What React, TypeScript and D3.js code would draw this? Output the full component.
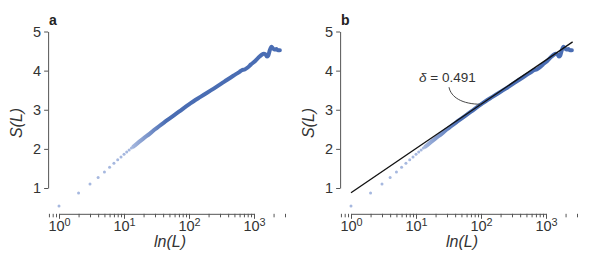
import { useEffect, useRef } from "react";
import * as d3 from "d3";

// sparse part of the curve, one dot per length L
const sparseL = [1, 2, 3, 4, 5, 6, 7, 8, 9, 10, 11, 12, 13, 14, 15, 16, 17, 18, 19, 20];
const sparseS = [0.54, 0.87, 1.1, 1.27, 1.41, 1.53, 1.63, 1.72, 1.79, 1.86, 1.92, 1.97, 2.02, 2.06, 2.1, 2.14, 2.18, 2.21, 2.24, 2.27];

// dense part
const denseL = [14, 20, 25, 30, 45, 70, 100, 150, 240, 350, 480, 600, 650, 720, 800, 900, 1000, 1150, 1300, 1420, 1500, 1580, 1650, 1750, 1860, 1950, 2050, 2200, 2350, 2500];
const denseS = [2.06, 2.27, 2.39, 2.5, 2.72, 2.95, 3.14, 3.33, 3.54, 3.72, 3.87, 3.97, 4.01, 4.03, 4.08, 4.16, 4.22, 4.32, 4.4, 4.43, 4.42, 4.36, 4.38, 4.52, 4.61, 4.57, 4.54, 4.55, 4.52, 4.52];

// fit S = a + delta * ln(L)
const fitDelta = 0.491;
const fitIntercept = 0.88;
const fitRange = [1, 2570];

const yTicks = [1, 2, 3, 4, 5];
const xMajor = [1, 10, 100, 1000];
const xMinor = [0.7, 0.8, 0.9, 2, 3, 4, 5, 6, 7, 8, 9, 20, 30, 40, 50, 60, 70, 80, 90, 200, 300, 400, 500, 600, 700, 800, 900, 2000, 3000];
const xLeft = 0.68;
const yBottom = 0.34;

const font = "'Liberation Sans', Arial, sans-serif";
const lightBlue = "#a6b8df";
const darkBlue = "#4a6db3";

function Panel({ ox, label, showFit, id }: { ox: number; label: string; showFit: boolean; id: string }) {
  const axRef = useRef<SVGGElement>(null);
  const x = d3.scaleLog().domain([1, 1000]).range([59 + ox, 254 + ox]);
  const y = d3.scaleLinear().domain([1, 5]).range([188, 31.5]);
  const fit = (L: number) => fitIntercept + fitDelta * Math.log(L);

  useEffect(() => {
    const g = d3.select(axRef.current);
    g.selectAll("*").remove();

    const ya = g.append("g")
      .attr("transform", `translate(${x(xLeft)},0)`)
      .call(d3.axisLeft(y).tickValues(yTicks).tickSize(4).tickPadding(3).tickSizeOuter(0).tickFormat(d3.format("d")));

    const xa = g.append("g")
      .attr("transform", `translate(0,${y(yBottom)})`)
      .call(d3.axisBottom(x).tickValues(xMajor).tickSize(5).tickPadding(2).tickSizeOuter(0).tickFormat(() => ""));

    xa.selectAll(".tick text").each(function (d: any) {
      const t = d3.select(this);
      t.text("10");
      t.append("tspan").attr("dy", "-0.45em").attr("font-size", "0.75em").text(String(Math.round(Math.log10(d))));
    });

    const xm = g.append("g")
      .attr("transform", `translate(0,${y(yBottom)})`)
      .call(d3.axisBottom(x).tickValues(xMinor).tickSize(3.5).tickFormat(() => ""));
    xm.select(".domain").remove();

    [ya, xa, xm].forEach((a) => {
      a.attr("font-family", font).attr("font-size", 14.5);
      a.selectAll(".domain, .tick line").attr("stroke", "#555");
      a.selectAll(".tick text").attr("fill", "#333");
    });
  });

  const line = d3.line<number>()
    .x((_, i) => x(denseL[i]))
    .y((d) => y(d))
    .curve(d3.curveMonotoneX);

  const endL = 100;
  const ex = x(endL);
  const ey = y(fit(endL));

  return (
    <g>
      <defs>
        <linearGradient id={id} gradientUnits="userSpaceOnUse" x1={x(13)} x2={x(45)} y1={0} y2={0}>
          <stop offset="0" stopColor={lightBlue} />
          <stop offset="1" stopColor={darkBlue} />
        </linearGradient>
      </defs>
      <text x={49 + ox} y={25} fontFamily={font} fontWeight="bold" fontSize={14} fill="#222">{label}</text>
      <g ref={axRef} />
      {sparseL.map((L, i) => (
        <circle key={L} cx={x(L)} cy={y(sparseS[i])} r={1.5} fill={lightBlue} />
      ))}
      <path d={line(denseS) || ""} fill="none" stroke={`url(#${id})`} strokeWidth={4} strokeLinecap="round" strokeLinejoin="round" />
      {showFit && (
        <g>
          <line x1={x(fitRange[0])} y1={y(fit(fitRange[0]))} x2={x(fitRange[1])} y2={y(fit(fitRange[1]))} stroke="#111" strokeWidth={1.3} />
          <path d={`M${ex - 32},${ey - 17} C${ex - 30},${ey - 7} ${ex - 19},${ey} ${ex},${ey}`} fill="none" stroke="#333" strokeWidth={0.9} />
          <text x={ex - 62} y={ey - 22} fontFamily={font} fontSize={13.5} fill="#333">
            <tspan fontStyle="italic">δ</tspan> = 0.491
          </text>
        </g>
      )}
      <text transform={`translate(${22 + ox},123) rotate(-90)`} textAnchor="middle" fontFamily={font} fontStyle="italic" fontSize={16} fill="#333">S(L)</text>
      <text x={170 + ox} y={247} textAnchor="middle" fontFamily={font} fontStyle="italic" fontSize={16} fill="#333">ln(L)</text>
    </g>
  );
}

export default function App() {
  return (
    <svg width={598} height={269} style={{ position: "absolute", left: 0, top: 0, background: "#fff" }}>
      <Panel ox={0} label="a" showFit={false} id="gradA" />
      <Panel ox={292} label="b" showFit={true} id="gradB" />
    </svg>
  );
}
